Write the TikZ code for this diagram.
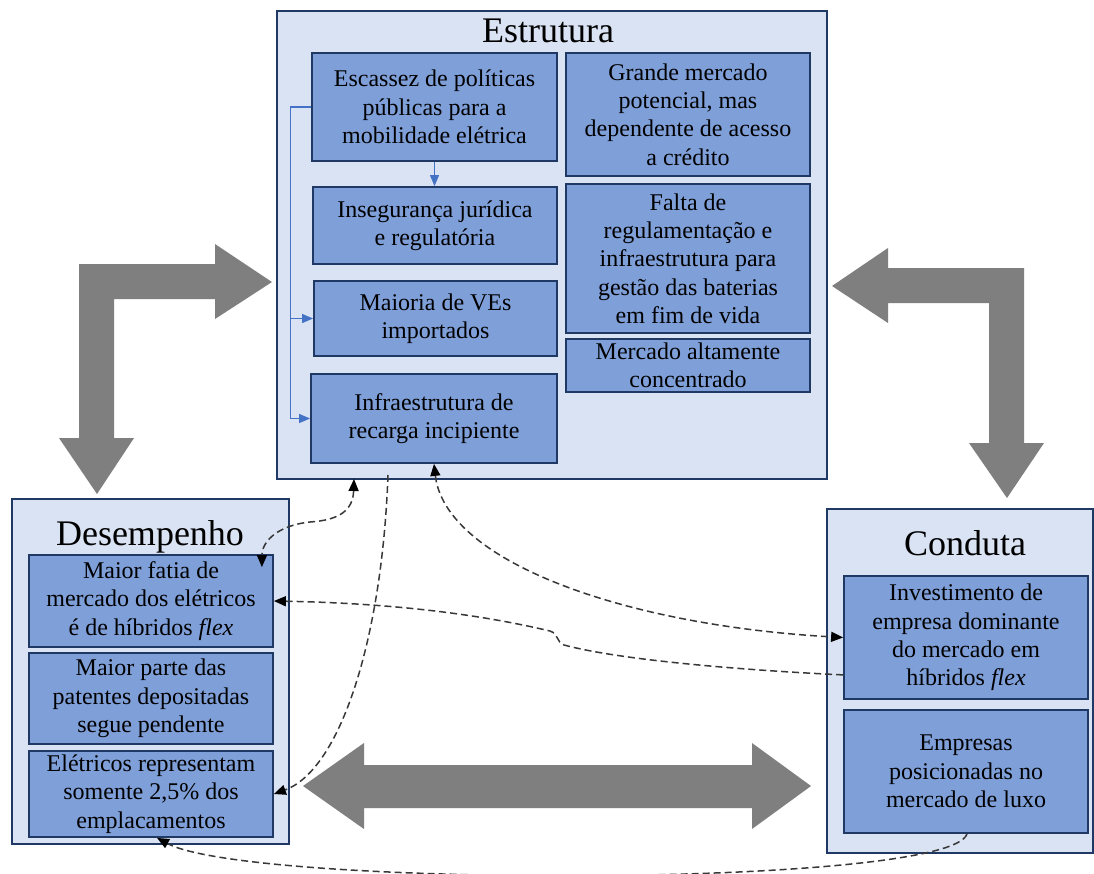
\documentclass[tikz,border=0pt]{standalone}
\usepackage{fontspec}
\setmainfont{Liberation Serif}
\usetikzlibrary{arrows.meta,calc}

\definecolor{outerfill}{HTML}{DAE3F3}
\definecolor{innerfill}{HTML}{7F9FD9}
\definecolor{navy}{HTML}{1F3864}
\definecolor{linkblue}{HTML}{4472C4}
\definecolor{bigarrow}{HTML}{7F7F7F}
\definecolor{dashgrey}{HTML}{383838}

\begin{document}
\begin{tikzpicture}[x=1pt,y=-1pt,
  panel/.style={draw=navy,fill=outerfill,line width=2pt,inner sep=0pt},
  item/.style={draw=navy,fill=innerfill,line width=1.8pt,inner sep=0pt,
    align=center,font=\fontsize{24}{28.3}\selectfont},
  heading/.style={anchor=base,inner sep=0pt,font=\fontsize{36}{40}\selectfont},
  link/.style={draw=linkblue,line width=1.1pt,-{Triangle[length=11pt,width=9pt]}},
  dashlink/.style={draw=dashgrey,line width=1.5pt,dash pattern=on 7pt off 4pt},
  tip/.tip={Triangle[length=12pt,width=10pt,fill=black,color=black]},
  flow/.style={fill=bigarrow,draw=none}
]
\useasboundingbox (0,0) rectangle (1094,873);
\fill[white] (0,0) rectangle (1094,873);

% large grey flow arrows
\fill[flow] (79,438) -- (59,438) -- (97,494) -- (134,438) -- (114,438)
  -- (114,299) -- (215,299) -- (215,319) -- (272,282) -- (215,244)
  -- (215,264) -- (79,264) -- cycle;
\fill[flow] (888,268) -- (1024,268) -- (1024,443) -- (1044,443) -- (1007,498)
  -- (969,443) -- (989,443) -- (989,303) -- (888,303) -- (888,323)
  -- (832,286) -- (888,248) -- cycle;
\fill[flow] (303,786) -- (364,743) -- (364,765) -- (752,765) -- (752,743)
  -- (811,786) -- (752,829) -- (752,808) -- (364,808) -- (364,829) -- cycle;

% Estrutura
\node[panel,minimum width=550,minimum height=468] (estr) at (552,245) {};
\node[heading] (estrT) at (548,42) {Estrutura};
\node[item,minimum width=245,minimum height=108] (esc) at (434.5,107)
  {Escassez de políticas\\públicas para a\\mobilidade elétrica};
\node[item,minimum width=244,minimum height=77] (ins) at (435,225.5)
  {Insegurança jurídica\\e regulatória};
\node[item,minimum width=243,minimum height=75] (mai) at (435.5,318.5)
  {Maioria de VEs\\importados};
\node[item,minimum width=246,minimum height=89] (inf) at (434,418.5)
  {Infraestrutura de\\recarga incipiente};
\node[item,minimum width=244,minimum height=123] (gra) at (688,114.5)
  {Grande mercado\\potencial, mas\\dependente de acesso\\a crédito};
\node[item,minimum width=244,minimum height=149] (fal) at (688,258.5)
  {Falta de\\regulamentação e\\infraestrutura para\\gestão das baterias\\em fim de vida};
\node[item,minimum width=244,minimum height=53] (mer) at (688,365.5)
  {Mercado altamente\\concentrado};

% Desempenho
\node[panel,minimum width=277,minimum height=345] (desm) at (150.5,671.5) {};
\node[heading] (desmT) at (150,545) {Desempenho};
\node[item,minimum width=244,minimum height=92] (d1) at (151,601)
  {Maior fatia de\\mercado dos elétricos\\é de híbridos \textit{flex}};
\node[item,minimum width=244,minimum height=91] (d2) at (151,698.5)
  {Maior parte das\\patentes depositadas\\segue pendente};
\node[item,minimum width=244,minimum height=86] (d3) at (151,794)
  {Elétricos representam\\somente 2,5\% dos\\emplacamentos};

% Conduta
\node[panel,minimum width=266,minimum height=344] (cond) at (960,681) {};
\node[heading] (condT) at (965,555) {Conduta};
\node[item,minimum width=244,minimum height=123] (c1) at (966,637.5)
  {Investimento de\\empresa dominante\\do mercado em\\híbridos \textit{flex}};
\node[item,minimum width=244,minimum height=123] (c2) at (966,771.5)
  {Empresas\\posicionadas no\\mercado de luxo};

% blue links inside Estrutura
\coordinate (trunk) at ($(esc.west)+(-21,0)$);
\draw[link] (esc.south) -- (esc.south |- ins.north);
\draw[link] (esc.west) -- (trunk) |- (inf.west);
\draw[link] (trunk |- mai.west) -- (mai.west);

% dashed links between the three panels
\coordinate (p1) at ([xshift=78pt,yshift=1pt]estr.south west);
\coordinate (p2) at ([xshift=-12pt,yshift=-13pt]d1.north east);
\coordinate (p3) at ([yshift=25pt]c1.south west);
\coordinate (p4) at ([xshift=112pt,yshift=5pt]estr.south west);
\coordinate (p5) at ([xshift=1pt]c2.south);
\coordinate (p6) at ([xshift=6pt]d3.south);

\draw[dashlink,{tip}-{tip}] (p1) .. controls (353,510) and (340,520) .. (310,522)
  .. controls (280,525) and (262,540) .. (p2);
\draw[dashlink,{tip}-{tip}] (inf.south) .. controls (445,560) and (620,625) .. (c1.west);
\draw[dashlink,-{tip}] (p3) .. controls (740,670) and (620,660) .. (564,645)
  .. controls (556,642) and (559,634) .. (550,631)
  .. controls (470,612) and (380,603) .. (d1.east);
\draw[dashlink,-{tip}] (p4) .. controls (382,640) and (340,770) .. (d3.east);
\draw[dashlink,-{tip}] (p5) .. controls (950,888) and (250,888) .. (p6);
\end{tikzpicture}
\end{document}
